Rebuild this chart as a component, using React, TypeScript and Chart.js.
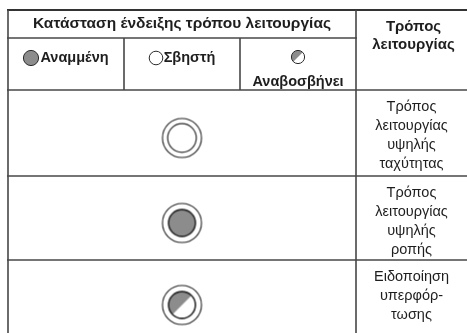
import React, { useEffect, useRef } from "react";
import { Chart, registerables } from "chart.js";
Chart.register(...registerables);

// ---- data ----
const headerTitle = "Κατάσταση ένδειξης τρόπου λειτουργίας";
const modeHeader = ["Τρόπος", "λειτουργίας"];
const stateLabels = ["Αναμμένη", "Σβηστή", "Αναβοσβήνει"];
const stateKeys = ["on", "off", "blink"];
const rowStates = ["off", "on", "blink"];
const rowModes = [
  ["Τρόπος", "λειτουργίας", "υψηλής", "ταχύτητας"],
  ["Τρόπος", "λειτουργίας", "υψηλής", "ροπής"],
  ["Ειδοποίηση", "υπερφόρ-", "τωσης"],
];

// ---- layout (units: x = columns, y = px below table top) ----
const COLW = 116;
const W = 467;
const H = 333;
const PADL = 8;
const PADT = 10;
const XMAX = (W - PADL) / COLW;
const YMAX = H - PADT;
const rowEdges = [0, 28, 80, 166, 250, 330];
const LINE = "#474747";
const TEXT = "#1e1e1e";
const FONT = '"Liberation Sans", Arial, sans-serif';

function makeIcon(state: string, outer: number, inner: number, innerLw: number) {
  const s = Math.ceil(Math.max(outer, inner) * 2 + 4);
  const c = document.createElement("canvas");
  c.width = s;
  c.height = s;
  const g = c.getContext("2d")!;
  const m = s / 2;
  if (outer > 0) {
    g.beginPath();
    g.arc(m, m, outer, 0, Math.PI * 2);
    g.lineWidth = 1.1;
    g.strokeStyle = "#222";
    g.stroke();
  }
  g.beginPath();
  g.arc(m, m, inner, 0, Math.PI * 2);
  g.fillStyle = state === "on" ? "#8c8c8c" : "#ffffff";
  g.fill();
  if (state === "blink") {
    g.save();
    g.beginPath();
    g.arc(m, m, inner, 0, Math.PI * 2);
    g.clip();
    g.beginPath();
    g.moveTo(m - inner - 1, m + inner + 1);
    g.lineTo(m + inner + 1, m - inner - 1);
    g.lineTo(m - inner - 1, m - inner - 1);
    g.closePath();
    g.fillStyle = "#8c8c8c";
    g.fill();
    g.restore();
  }
  g.beginPath();
  g.arc(m, m, inner, 0, Math.PI * 2);
  g.lineWidth = innerLw;
  g.strokeStyle = "#2a2a2a";
  g.stroke();
  return c;
}

const tablePlugin = {
  id: "tablePlugin",
  afterDraw(chart: any) {
    const ctx = chart.ctx as CanvasRenderingContext2D;
    const xs = chart.scales.x;
    const ys = chart.scales.y;
    const px = (v: number) => xs.getPixelForValue(v);
    const py = (v: number) => ys.getPixelForValue(v);
    ctx.save();
    ctx.strokeStyle = LINE;
    ctx.lineCap = "butt";
    const hl = (y: number, x0: number, x1: number, lw = 1.6) => {
      ctx.lineWidth = lw;
      ctx.beginPath();
      ctx.moveTo(px(x0) - 1, py(y));
      ctx.lineTo(px(x1) + 1, py(y));
      ctx.stroke();
    };
    const vl = (x: number, y0: number, y1: number) => {
      ctx.lineWidth = 1.6;
      ctx.beginPath();
      ctx.moveTo(px(x), py(y0));
      ctx.lineTo(px(x), py(y1));
      ctx.stroke();
    };
    ctx.strokeStyle = "#333";
    hl(rowEdges[0], 0, XMAX, 2);
    ctx.strokeStyle = LINE;
    hl(rowEdges[1], 0, 3);
    hl(rowEdges[2], 0, XMAX);
    hl(rowEdges[3], 0, XMAX);
    hl(rowEdges[4], 0, XMAX);
    vl(0, rowEdges[0], YMAX);
    vl(3, rowEdges[0], YMAX);
    vl(1, rowEdges[1], rowEdges[2]);
    vl(2, rowEdges[1], rowEdges[2]);

    ctx.fillStyle = TEXT;
    ctx.textBaseline = "middle";
    ctx.textAlign = "center";
    ctx.font = `bold 15.5px ${FONT}`;
    ctx.fillText(headerTitle, px(1.5), py(14));
    const lastC = px((3 + XMAX) / 2);
    ctx.font = `bold 15px ${FONT}`;
    modeHeader.forEach((t, i) => ctx.fillText(t, lastC + 2, py(17 + i * 18)));

    // state header cells
    const hdrIcons: Record<string, HTMLCanvasElement> = {
      on: makeIcon("on", 0, 7.6, 1),
      off: makeIcon("off", 0, 6.8, 1),
      blink: makeIcon("blink", 0, 6.6, 1),
    };
    stateKeys.forEach((k, i) => {
      const cx = px(i + 0.5);
      const icon = hdrIcons[k];
      const label = stateLabels[i];
      ctx.font = `bold 14.5px ${FONT}`;
      if (k === "blink") {
        ctx.drawImage(icon, Math.round(cx - icon.width / 2), Math.round(py(47) - icon.height / 2));
        ctx.textAlign = "center";
        ctx.fillText(label, cx, py(72));
      } else {
        const tw = ctx.measureText(label).width;
        const iw = icon.width - 4;
        const gap = 1;
        const start = cx - (iw + gap + tw) / 2;
        ctx.drawImage(icon, Math.round(start - 2), Math.round(py(48) - icon.height / 2));
        ctx.textAlign = "left";
        ctx.fillText(label, start + iw + gap, py(48));
      }
    });

    // mode names in data rows
    ctx.textAlign = "center";
    ctx.font = `14.5px ${FONT}`;
    rowModes.forEach((lines, r) => {
      const top = rowEdges[r + 2];
      lines.forEach((t, i) => ctx.fillText(t, lastC, py(top + 17 + i * 19)));
    });
    ctx.restore();
  },
};

const bgPlugin = {
  id: "bg",
  beforeDraw(chart: any) {
    const ctx = chart.ctx;
    ctx.save();
    ctx.fillStyle = "#ffffff";
    ctx.fillRect(0, 0, chart.width, chart.height);
    ctx.restore();
  },
};

export default function App() {
  const ref = useRef<HTMLCanvasElement | null>(null);
  useEffect(() => {
    if (!ref.current) return;
    const icons: Record<string, HTMLCanvasElement> = {
      off: makeIcon("off", 19.5, 14.3, 1.2),
      on: makeIcon("on", 19.5, 13.4, 1.6),
      blink: makeIcon("blink", 19.5, 13.4, 1.6),
    };
    const points = rowStates.map((s, i) => ({
      x: 1.5,
      y: (rowEdges[i + 2] + (rowEdges[i + 3] ?? YMAX)) / 2 + 5,
    }));
    const chart = new Chart(ref.current, {
      type: "scatter",
      data: {
        datasets: [
          {
            data: points,
            pointStyle: rowStates.map((s) => icons[s]) as any,
            pointRadius: 1,
            showLine: false,
          },
        ],
      },
      options: {
        animation: false,
        responsive: false,
        maintainAspectRatio: false,
        events: [],
        layout: { autoPadding: false, padding: { left: PADL, top: PADT, right: 0, bottom: 0 } },
        plugins: { legend: { display: false }, tooltip: { enabled: false } },
        scales: {
          x: { type: "linear", display: false, min: 0, max: XMAX },
          y: { type: "linear", display: false, reverse: true, min: 0, max: YMAX },
        },
      },
      plugins: [bgPlugin, tablePlugin],
    });
    return () => chart.destroy();
  }, []);
  return (
    <div style={{ position: "absolute", left: 0, top: 0, width: W, height: H, overflow: "hidden", background: "#fff" }}>
      <canvas ref={ref} width={W} height={H} style={{ display: "block", width: W, height: H }} />
    </div>
  );
}
